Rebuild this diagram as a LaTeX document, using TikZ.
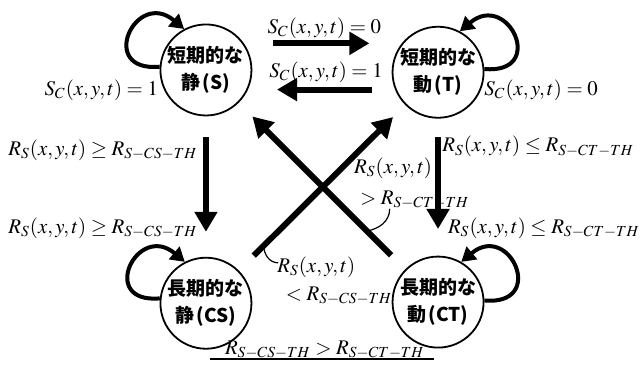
\documentclass[tikz,border=0pt]{standalone}
\usepackage[no-math]{fontspec}
\usepackage{mathptmx}
\setmainfont{Liberation Serif}
\newfontfamily\cjk{Noto Sans CJK JP}
\usetikzlibrary{arrows.meta}

\tikzset{
    phase/.style={draw, circle, line width=0.9pt, minimum size=1.6cm, inner sep=0pt,
        align=center, font=\cjk\bfseries\fontsize{9.5}{13.5}\selectfont},
    bigarrow/.style={line width=3pt, -{Triangle[length=10pt,width=11pt]}},
    selfloop/.style={line width=2pt, -{Triangle[length=7pt,width=8pt]}, looseness=3.6},
    pointer/.style={line width=0.6pt},
    cond/.style={font=\fontsize{10.4}{12}\selectfont, inner sep=1pt},
}

\begin{document}
\begin{tikzpicture}
    \useasboundingbox (-5.66,-3.145) rectangle (5.66,3.27);

    \node[phase] (S)  at (-2.04, 2.04) {短期的な\\静\hspace{1pt}(S)};
    \node[phase] (T)  at ( 2.04, 2.00) {短期的な\\動\hspace{1pt}(T)};
    \node[phase] (CS) at (-2.04,-2.06) {長期的な\\静\hspace{1pt}(CS)};
    \node[phase] (CT) at ( 2.04,-2.04) {長期的な\\動\hspace{1pt}(CT)};

    % staying in the same state
    \draw[selfloop] (S.176) to[out=185,in=140] (S.118);
    \draw[selfloop] (T.4) to[out=-5,in=40] (T.62);
    \draw[selfloop] (CS.174) to[out=185,in=140] (CS.117);
    \draw[selfloop] (CT.2) to[out=-5,in=40] (CT.60);

    % short term <-> short term
    \draw[bigarrow, shorten <=0.51cm, shorten >=0.39cm] (S.35) -- (S.35 -| T.west);
    \draw[bigarrow, shorten <=0.35cm, shorten >=0.51cm] (S.-25 -| T.west) -- (S.-25);

    % short term -> long term
    \draw[bigarrow, shorten <=0.37cm, shorten >=0.44cm] (S) -- (CS);
    \draw[bigarrow, shorten <=0.33cm, shorten >=0.47cm] (T) -- (CT);

    % long term -> short term
    \draw[bigarrow, shorten <=0.37cm, shorten >=0.30cm] (CS) -- (T) coordinate[pos=0.15] (p2);
    \draw[bigarrow, shorten <=0.35cm, shorten >=0.34cm] (CT) -- (S) coordinate[pos=0.23] (p1);

    \node[cond] (st0) at (0.04, 2.78) {$S_C(x,y,t)=0$};
    \node[cond] (ts1) at (0.07, 2.00) {$S_C(x,y,t)=1$};
    \node[cond] (ss1) at (-3.88, 1.69) {$S_C(x,y,t)=1$};
    \node[cond] (tt0) at (3.85, 1.69) {$S_C(x,y,t)=0$};

    \node[cond] (scs1) at (-3.85, 0.63) {$R_S(x,y,t)\geq R_{S-CS-TH}$};
    \node[cond] (scs2) at (-3.85,-0.74) {$R_S(x,y,t)\geq R_{S-CS-TH}$};
    \node[cond] (tct1) at (3.80, 0.69) {$R_S(x,y,t)\leq R_{S-CT-TH}$};
    \node[cond] (tct2) at (3.90,-0.74) {$R_S(x,y,t)\leq R_{S-CT-TH}$};

    \node[cond] (cts1) at (1.25, 0.32) {$R_S(x,y,t)$};
    \node[cond] (cts2) at (1.63,-0.25) {$>R_{S-CT-TH}$};
    \node[cond] (cst1) at (-0.10,-1.42) {$R_S(x,y,t)$};
    \node[cond] (cst2) at (0.30,-1.93) {$<R_{S-CS-TH}$};

    \coordinate (c1) at (1.19,-0.40);
    \coordinate (c2) at (-0.77,-1.35);
    \draw[pointer] (c1) to[out=-90,in=10] (p1);
    \draw[pointer] (p2) to[out=-90,in=180] (c2);

    \node[cond] (cmp) at (0.05,-2.88) {$R_{S-CS-TH} > R_{S-CT-TH}$};
    \draw[line width=0.8pt] ([xshift=-0.22cm,yshift=1pt]cmp.south west) -- ([xshift=0.12cm,yshift=1pt]cmp.south east);
\end{tikzpicture}
\end{document}
